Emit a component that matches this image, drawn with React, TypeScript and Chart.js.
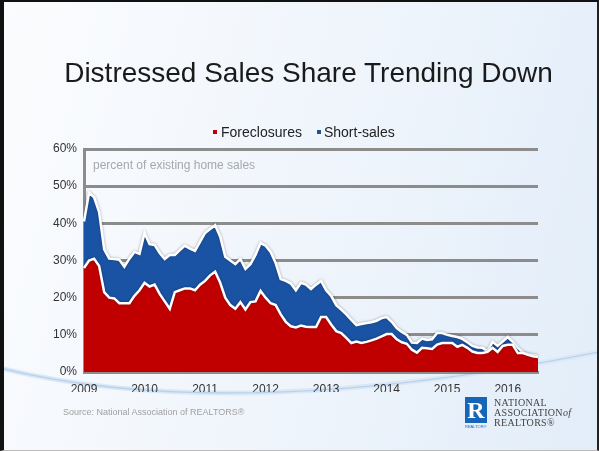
import React, { useEffect, useRef } from "react";
import { Chart, registerables } from "chart.js";

Chart.register(...registerables);

const YEARS = ["2009", "2010", "2011", "2012", "2013", "2014", "2015", "2016"];
const MONTHS = ["Jan", "Feb", "Mar", "Apr", "May", "Jun", "Jul", "Aug", "Sep", "Oct", "Nov", "Dec"];
const MONTH_COUNT = 91; // Jan 2009 .. Jul 2016

const foreclosures = [
  28, 30, 30.5, 28.5, 21.5, 20, 19.8, 18.5, 18.5, 18.5, 20.5, 22,
  24, 23, 23.5, 21, 19, 17, 21.5, 22, 22.5, 22.5, 22, 23.5,
  24.5, 26, 27, 24, 20, 18, 17, 18.8, 16.8, 18.8, 19, 21.8,
  20, 18.5, 18, 15.5, 13.5, 12.3, 12, 12.5, 12.2, 12.1, 12.1, 14.8,
  14.8, 12.8, 11, 10.5, 9.2, 7.8, 8.2, 7.8, 8.1, 8.5, 9, 9.6,
  10.2, 10.2, 8.8, 8, 7.6, 6, 5.2, 6.5, 6.4, 6.2, 7.4, 7.8,
  7.8, 7.8, 6.8, 7.3, 6.5, 5.5, 5.1, 5.1, 5.4, 6.5, 5.4, 7,
  7.3, 7.3, 5.1, 5.1, 4.6, 4.2, 4,
];

const shortSales = [
  12.5, 18.2, 16.5, 14.5, 11.5, 10.5, 10.6, 11.7, 9.8, 12, 11.8, 9.8,
  13.4, 11.4, 10.7, 11, 11.4, 14.5, 10, 10.8, 11.5, 10.7, 10.6, 11.5,
  12.9, 12.5, 12.5, 12.4, 11, 12, 12, 11.6, 10.9, 10.2, 12.5, 12.9,
  14, 13.8, 11.3, 9.5, 11, 11.5, 10, 11.5, 11.3, 10.2, 11.4, 9.7,
  7.2, 7.7, 7, 6.3, 6.3, 6.2, 4.4, 5.1, 5.1, 4.9, 4.8, 4.9,
  4.6, 3.3, 3, 2.8, 2.4, 1.9, 2.6, 2.5, 2.2, 2.6, 3.1, 2.7,
  2.2, 1.9, 2.6, 1.6, 1.5, 1.5, 1.5, 1.4, 0.2, 1.6, 1.6, 1.2,
  2.1, 0.8, 1.4, 0.2, 0.2, 0.4, 0.3,
];

const yTicks = [0, 10, 20, 30, 40, 50, 60];

const labels: string[] = [];
for (const y of YEARS) {
  for (const m of MONTHS) {
    if (labels.length < MONTH_COUNT) labels.push(m + " " + y);
  }
}

const RED = "#c00000";
const BLUE = "#1b53a4";
const GRID = "#8c8c8c";
const FONT = "'Liberation Sans', Arial, Helvetica, sans-serif";

const shadowPlugin = {
  id: "areaShadow",
  beforeDatasetsDraw(chart: any) {
    const ctx = chart.ctx;
    ctx.save();
    ctx.shadowColor = "rgba(0,0,0,0.28)";
    ctx.shadowBlur = 3;
    ctx.shadowOffsetX = 0;
    ctx.shadowOffsetY = 0;
  },
  afterDatasetsDraw(chart: any) {
    chart.ctx.restore();
  },
};

export default function App() {
  const canvasRef = useRef<HTMLCanvasElement | null>(null);

  useEffect(() => {
    document.body.style.margin = "0";
    if (!canvasRef.current) return;
    const chart = new Chart(canvasRef.current, {
      type: "line",
      data: {
        labels,
        datasets: [
          {
            label: "Foreclosures",
            data: foreclosures,
            backgroundColor: RED,
            borderColor: "#ffffff",
            borderWidth: 2.5,
            pointRadius: 0,
            fill: "origin",
            tension: 0,
          },
          {
            label: "Short-sales",
            data: shortSales,
            backgroundColor: BLUE,
            borderColor: "#ffffff",
            borderWidth: 2.5,
            pointRadius: 0,
            fill: "-1",
            tension: 0,
          },
        ],
      },
      options: {
        animation: false,
        responsive: false,
        maintainAspectRatio: false,
        layout: { padding: { left: 0, right: 61, top: 149, bottom: 59 } },
        plugins: {
          legend: { display: false },
          title: { display: false },
          tooltip: { enabled: false },
        },
        scales: {
          x: {
            type: "category",
            offset: false,
            grid: { display: false },
            border: { display: true, color: GRID, width: 3 },
            ticks: {
              autoSkip: false,
              maxRotation: 0,
              minRotation: 0,
              padding: 2,
              color: "#333",
              font: { family: FONT, size: 12 },
              callback: (_v: any, i: number) => (i % 12 === 0 ? YEARS[i / 12] : ""),
            },
            afterFit: (s: any) => {
              s.height = 20;
            },
          },
          y: {
            stacked: true,
            min: yTicks[0],
            max: yTicks[yTicks.length - 1],
            grid: { color: GRID, lineWidth: 3, drawTicks: false },
            border: { display: true, color: GRID, width: 3 },
            afterBuildTicks: (s: any) => {
              s.ticks = yTicks.map((v) => ({ value: v }));
            },
            ticks: {
              padding: 7,
              color: "#333",
              font: { family: FONT, size: 12 },
              callback: (v: any) => v + "%",
            },
            afterFit: (s: any) => {
              s.width = 84;
            },
          },
        },
      },
      plugins: [shadowPlugin],
    });
    return () => chart.destroy();
  }, []);

  return (
    <div
      style={{
        position: "absolute",
        left: 0,
        top: 0,
        width: 599,
        height: 451,
        overflow: "hidden",
        boxSizing: "border-box",
        borderLeft: "4px solid #111",
        borderTop: "2px solid #111",
        borderRight: "2px solid #222",
        borderBottom: "1px solid #bbb",
        background: "linear-gradient(105deg, #fbfcfe 0%, #f1f6fc 45%, #e2edf9 100%)",
        fontFamily: FONT,
      }}
    >
      <svg
        width={599}
        height={451}
        style={{ position: "absolute", left: -4, top: -2 }}
      >
        <path d="M 0 368 Q 230 425 599 352" fill="none" stroke="#dbe8f6" strokeWidth={5} />
        <path d="M 0 368 Q 230 425 599 352" fill="none" stroke="#b9d1ec" strokeWidth={1.3} />
      </svg>
      <canvas
        ref={canvasRef}
        width={599}
        height={451}
        style={{ position: "absolute", left: -4, top: -2, width: 599, height: 451 }}
      />
      <div
        style={{
          position: "absolute",
          left: -4,
          top: 55,
          width: 617,
          textAlign: "center",
          fontSize: 28,
          color: "#1a1a1a",
          whiteSpace: "nowrap",
          lineHeight: "32px",
        }}
      >
        Distressed Sales Share Trending Down
      </div>
      <div
        style={{
          position: "absolute",
          left: 209,
          top: 122,
          fontSize: 14,
          color: "#222",
          whiteSpace: "nowrap",
          lineHeight: "16px",
          display: "flex",
          alignItems: "center",
        }}
      >
        <span style={{ display: "inline-block", width: 4, height: 4, background: RED, marginRight: 4 }} />
        <span>Foreclosures</span>
        <span style={{ display: "inline-block", width: 4, height: 4, background: BLUE, marginLeft: 15, marginRight: 3 }} />
        <span>Short-sales</span>
      </div>
      <div
        style={{
          position: "absolute",
          left: 89,
          top: 156,
          fontSize: 12,
          color: "#a8a8a8",
          whiteSpace: "nowrap",
          lineHeight: "14px",
        }}
      >
        percent of existing home sales
      </div>
      <div
        style={{
          position: "absolute",
          left: 59,
          top: 405,
          fontSize: 9,
          color: "#a0a0a0",
          whiteSpace: "nowrap",
          lineHeight: "11px",
        }}
      >
        Source: National Association of REALTORS®
      </div>
      <div style={{ position: "absolute", left: 461, top: 395 }}>
        <div
          style={{
            width: 22,
            height: 26,
            background: "#1565b8",
            color: "#fff",
            fontFamily: "'Liberation Serif', 'DejaVu Serif', serif",
            fontWeight: "bold",
            fontSize: 24,
            lineHeight: "26px",
            textAlign: "center",
          }}
        >
          R
        </div>
        <div style={{ fontSize: 4, color: "#1565b8", lineHeight: "5px", marginTop: 1 }}>REALTOR®</div>
      </div>
      <div
        style={{
          position: "absolute",
          left: 490,
          top: 396,
          fontFamily: "'Liberation Serif', 'DejaVu Serif', serif",
          fontSize: 10,
          color: "#444",
          lineHeight: "10px",
          whiteSpace: "nowrap",
          letterSpacing: 0.3,
        }}
      >
        <div>NATIONAL</div>
        <div>
          ASSOCIATION<span style={{ fontStyle: "italic" }}>of</span>
        </div>
        <div>REALTORS®</div>
      </div>
    </div>
  );
}
